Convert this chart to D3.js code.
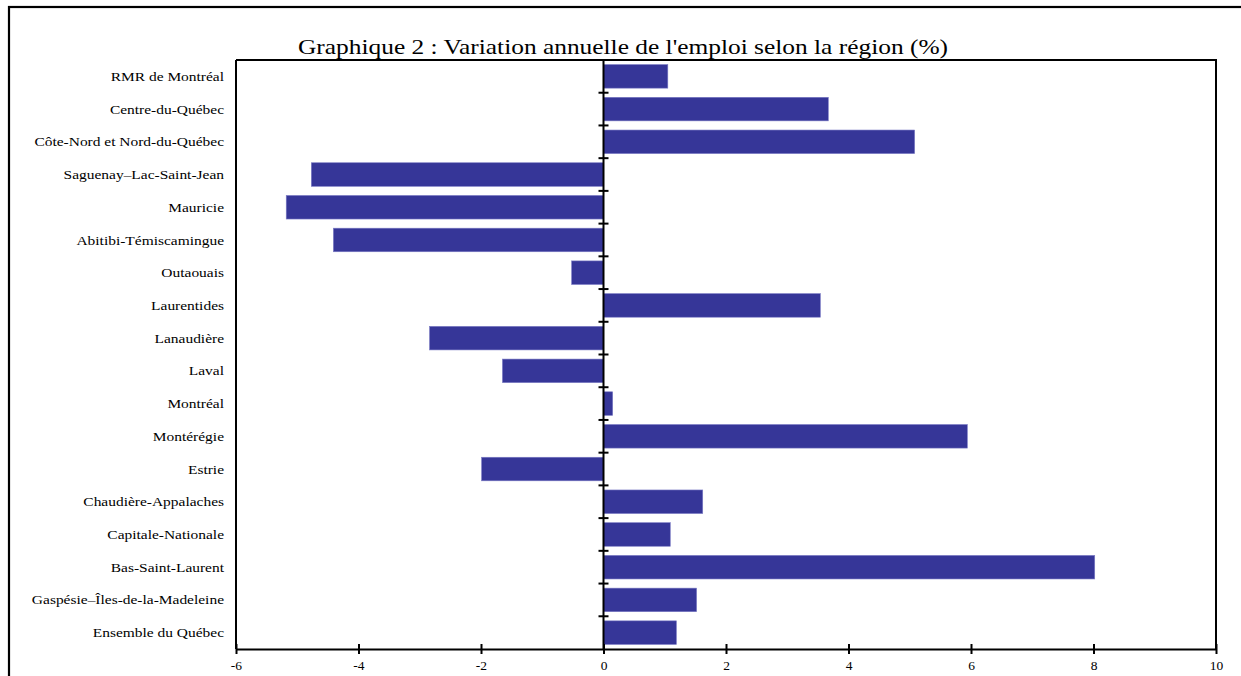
<!DOCTYPE html>
<html><head><meta charset="utf-8">
<script src="https://cdn.jsdelivr.net/npm/d3@7"></script>
<style>body{margin:0;background:#fff;}svg{display:block;}</style>
</head><body>
<svg id="c" width="1241" height="676"></svg>
<script>
const categories = ["RMR de Montréal","Centre-du-Québec","Côte-Nord et Nord-du-Québec","Saguenay–Lac-Saint-Jean","Mauricie","Abitibi-Témiscamingue","Outaouais","Laurentides","Lanaudière","Laval","Montréal","Montérégie","Estrie","Chaudière-Appalaches","Capitale-Nationale","Bas-Saint-Laurent","Gaspésie–Îles-de-la-Madeleine","Ensemble du Québec"];
const values = [1.05,3.67,5.08,-4.77,-5.18,-4.41,-0.52,3.54,-2.84,-1.65,0.15,5.94,-1.99,1.62,1.09,8.02,1.52,1.19];
const xTicks = [-6,-4,-2,0,2,4,6,8,10];
const title = "Graphique 2 : Variation annuelle de l'emploi selon la région (%)";

const svg = d3.select("#c");
const font = "'Liberation Serif','Times New Roman',serif";
const L=236, R=1216, T=60, B=649;
const x = d3.scaleLinear().domain([-6,10]).range([L,R]);
const y = d3.scaleBand().domain(categories).range([T,B]).paddingInner(0.28).paddingOuter(0.14);

// outer frame
svg.append("rect").attr("x",9).attr("y",7).attr("width",1250).attr("height",700)
  .attr("fill","none").attr("stroke","#000").attr("stroke-width",2.2);

// title
svg.append("text").attr("transform","translate(623,54) scale(1.155,1)").attr("text-anchor","middle")
  .attr("font-family",font).attr("font-size",22).text(title);

// bars
svg.append("g").selectAll("rect").data(values).join("rect")
  .attr("x",d=>x(Math.min(0,d))).attr("width",d=>Math.abs(x(d)-x(0)))
  .attr("y",(d,i)=>y(categories[i])).attr("height",y.bandwidth())
  .attr("fill","#363698").attr("stroke","#7a7ac4").attr("stroke-width",0.6);

// plot frame
svg.append("path").attr("d",`M${L},${T}H${R}V${B}`).attr("fill","none").attr("stroke","#000").attr("stroke-width",2);
svg.append("line").attr("x1",L).attr("x2",L).attr("y1",T).attr("y2",B).attr("stroke","#000").attr("stroke-width",2);

// bottom axis
const xa = svg.append("g").attr("transform",`translate(0,${B})`)
  .call(d3.axisBottom(x).tickValues(xTicks).tickSize(0).tickPadding(12).tickFormat(d=>String(d)));
xa.select(".domain").attr("stroke","#000").attr("stroke-width",2);
xa.selectAll("text").attr("font-family",font).attr("font-size",12.5).attr("fill","#000")
  .attr("transform","scale(1.08,1)").attr("x",function(){return 0;});
xa.selectAll(".tick").append("line").attr("y1",-5).attr("y2",5).attr("stroke","#000").attr("stroke-width",2);

// zero axis with ticks at category boundaries
const step = y.step();
const bounds = d3.range(1,categories.length).map(i=>y(categories[i]) - step*y.paddingInner()/2);
svg.append("line").attr("x1",x(0)).attr("x2",x(0)).attr("y1",T).attr("y2",B).attr("stroke","#000").attr("stroke-width",2);
svg.append("g").selectAll("line").data(bounds).join("line")
  .attr("x1",x(0)-5).attr("x2",x(0)+5).attr("y1",d=>d).attr("y2",d=>d)
  .attr("stroke","#000").attr("stroke-width",2);

// category labels
svg.append("g").selectAll("text").data(categories).join("text")
  .attr("transform",d=>`translate(224,${y(d)+y.bandwidth()/2}) scale(1.19,1)`).attr("dy","0.35em")
  .attr("text-anchor","end").attr("font-family",font).attr("font-size",13).text(d=>d);
</script>
</body></html>
